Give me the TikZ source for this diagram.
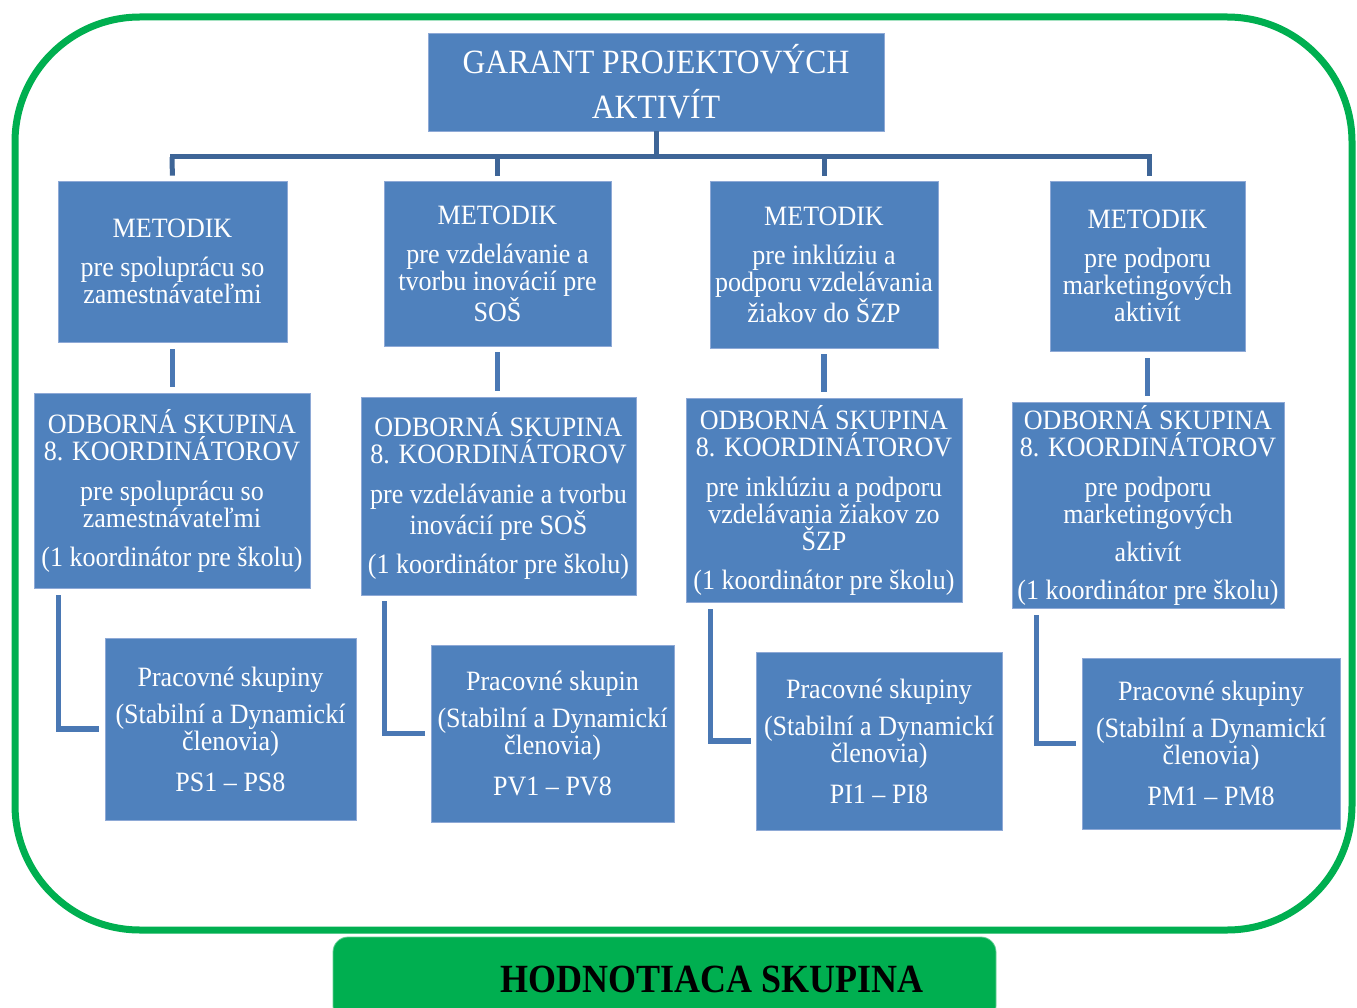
\documentclass[tikz,border=0pt]{standalone}
\usepackage{fontspec}
\setmainfont{Liberation Serif}
\newfontfamily\condfont{Liberation Serif}[FakeStretch=0.93]
\newfontfamily\condbold{Liberation Serif Bold}[FakeStretch=0.9]
\definecolor{boxblue}{HTML}{4F81BD}
\definecolor{boxedge}{HTML}{8EA9D6}
\definecolor{treeblue}{HTML}{3E6597}
\definecolor{linkblue}{HTML}{4A78B4}
\definecolor{framegreen}{HTML}{00AF50}
\tikzset{
  bluebox/.style={fill=boxblue, draw=boxedge, line width=0.8pt, text=white,
    align=center, inner sep=0pt, font=\condfont\fontsize{28}{27}\selectfont},
  treeline/.style={draw=treeblue, line width=5pt},
  linkline/.style={draw=linkblue, line width=5.5pt},
}
\begin{document}
\begin{tikzpicture}[x=1pt, y=-1pt]
\useasboundingbox (0,0) rectangle (1357,1008);
\fill[white] (0,0) rectangle (1357,1008);

% outer green frame
\draw[framegreen, line width=7pt, rounded corners=125pt] (15,17) rectangle (1352,930);

% title
\node[bluebox, minimum width=456pt, minimum height=98pt, font=\condfont\fontsize{34}{45}\selectfont]
  (garant) at (656,82) {\raisebox{2pt}{GARANT PROJEKTOVÝCH}\\ \raisebox{2pt}{AKTIVÍT}};

% METODIK boxes
\node[bluebox, minimum width=229pt, minimum height=161pt] (m1) at (172.5,261.5)
  {METODIK\\[12pt] pre spoluprácu so\\ zamestnávateľmi};
\node[bluebox, minimum width=227pt, minimum height=165pt] (m2) at (497.5,263.5)
  {METODIK\\[12pt] pre vzdelávanie a\\ tvorbu inovácií pre\\ SOŠ};
\node[bluebox, minimum width=228pt, minimum height=167pt] (m3) at (824,264.5)
  {METODIK\\[12pt] pre inklúziu a\\ podporu vzdelávania\\ žiakov do ŠZP};
\node[bluebox, minimum width=195pt, minimum height=170pt] (m4) at (1147.5,266)
  {METODIK\\[12pt] pre podporu\\ marketingových\\ aktivít};

% ODBORNA boxes
\node[bluebox, minimum width=276pt, minimum height=195pt] (o1) at (172,490.5)
  {ODBORNÁ SKUPINA\\ 8. KOORDINÁTOROV\\[13pt] pre spoluprácu so\\ zamestnávateľmi\\[12pt] (1 koordinátor pre školu)};
\node[bluebox, minimum width=275pt, minimum height=198pt] (o2) at (498.5,496)
  {ODBORNÁ SKUPINA\\ 8. KOORDINÁTOROV\\[13pt] pre vzdelávanie a tvorbu\\ inovácií pre SOŠ\\[12pt] (1 koordinátor pre školu)};
\node[bluebox, minimum width=276pt, minimum height=204pt] (o3) at (824,500)
  {ODBORNÁ SKUPINA\\ 8. KOORDINÁTOROV\\[13pt] pre inklúziu a podporu\\ vzdelávania žiakov zo\\ ŠZP\\[12pt] (1 koordinátor pre školu)};
\node[bluebox, minimum width=272pt, minimum height=206pt] (o4) at (1148,505)
  {ODBORNÁ SKUPINA\\ 8. KOORDINÁTOROV\\[13pt] pre podporu\\ marketingových\\[11pt] aktivít\\[11pt] (1 koordinátor pre školu)};

% Pracovne boxes
\node[bluebox, minimum width=251pt, minimum height=182pt] (p1) at (230.5,729)
  {Pracovné skupiny\\[10pt] (Stabilní a Dynamickí\\ členovia)\\[14pt] PS1 – PS8};
\node[bluebox, minimum width=243pt, minimum height=177pt] (p2) at (552.5,733.5)
  {Pracovné skupin\\[10pt] (Stabilní a Dynamickí\\ členovia)\\[14pt] PV1 – PV8};
\node[bluebox, minimum width=246pt, minimum height=178pt] (p3) at (879,741)
  {Pracovné skupiny\\[10pt] (Stabilní a Dynamickí\\ členovia)\\[14pt] PI1 – PI8};
\node[bluebox, minimum width=258pt, minimum height=171pt] (p4) at (1211,743.5)
  {Pracovné skupiny\\[10pt] (Stabilní a Dynamickí\\ členovia)\\[14pt] PM1 – PM8};

% tree from title
\coordinate (barL) at (172,157);
\coordinate (barR) at (1149,157);
\draw[treeline] (garant.south) -- (garant.south |- barL);
\draw[treeline, line cap=rect] (barL) -- (barR);
\draw[treeline, shorten >=5pt] (barL) -- (m1.north);
\draw[treeline, shorten >=5pt] (m2.north |- barL) -- (m2.north);
\draw[treeline, shorten >=5pt] (m3.north |- barL) -- (m3.north);
\draw[treeline, shorten >=5pt] (barR) -- (barR |- m4.north);

% METODIK -> ODBORNA
\draw[linkline, shorten <=7pt, shorten >=6pt] (m1.south) -- (m1.south |- o1.north);
\draw[linkline, shorten <=6pt, shorten >=6pt] (m2.south) -- (m2.south |- o2.north);
\draw[linkline, shorten <=6pt, shorten >=6pt] (m3.south) -- (m3.south |- o3.north);
\draw[linkline, shorten <=7pt, shorten >=6pt] (m4.south) -- (m4.south |- o4.north);

% ODBORNA -> Pracovne
\draw[linkline] ([shift={(25,7)}]o1.south west) |- ([xshift=-6pt]p1.west);
\draw[linkline] ([shift={(24,6)}]o2.south west) |- ([xshift=-6pt]p2.west);
\draw[linkline] ([shift={(25,7)}]o3.south west) |- ([xshift=-5pt]p3.west);
\draw[linkline] ([shift={(25,7)}]o4.south west) |- ([xshift=-6pt]p4.west);

% bottom evaluation group
\node[fill=framegreen, draw=framegreen!60!white, line width=0.8pt, rounded corners=15pt,
  minimum width=663pt, minimum height=84pt, inner sep=0pt,
  font=\condbold\fontsize{40}{44}\selectfont] (hodn) at (664.5,979)
  {\raisebox{-2pt}{\hspace*{95pt}HODNOTIACA SKUPINA}};
\end{tikzpicture}
\end{document}
